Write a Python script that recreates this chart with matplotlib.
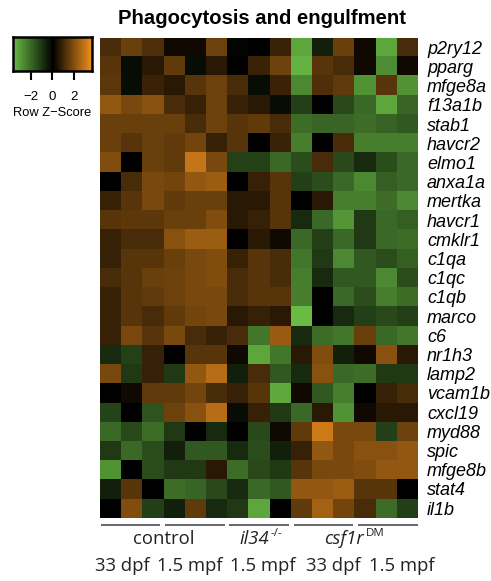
import numpy as np
import matplotlib
matplotlib.use("Agg")
import matplotlib.pyplot as plt
from matplotlib.colors import LinearSegmentedColormap
from matplotlib.transforms import blended_transform_factory

genes = ["p2ry12", "pparg", "mfge8a", "f13a1b", "stab1", "havcr2", "elmo1", "anxa1a",
         "mertka", "havcr1", "cmklr1", "c1qa", "c1qc", "c1qb", "marco", "c6", "nr1h3",
         "lamp2", "vcam1b", "cxcl19", "myd88", "spic", "mfge8b", "stat4", "il1b"]

genotypes = ["control", "il34", "csf1r"]
genotype_sup = ["", "-/-", "DM"]
stages = ["33 dpf", "1.5 mpf", "1.5 mpf", "33 dpf", "1.5 mpf"]

p2ry12 = [1.08, 1.55, 1.15, 0.25, 0.25, 1.6, -0.1, 0.0, 0.85, -3.2, -0.6, 1.55, 0.25, -3.2, 1.08]
pparg  = [1.3, -0.25, 0.6, 1.45, -0.25, 0.6, 0.05, 0.85, 1.6, -3.45, 1.3, 1.08, 0.25, -2.7, 0.25]
mfge8a = [1.35, -0.25, 0.85, 0.6, 1.3, 1.6, 1.08, -0.25, 0.85, -2.6, 1.15, 1.45, -2.8, 1.3, -2.8]
f13a1b = [2.15, 1.78, 2.0, 1.08, 0.8, 1.6, 0.8, 0.6, -0.25, -1.2, 0.0, -1.4, -2.0, -3.2, -1.95]
stab1  = [1.55, 1.55, 1.55, 1.55, 1.08, 1.6, 1.3, 1.45, 1.08, -2.1, -1.95, -1.95, -2.1, -1.9, -1.7]
havcr2 = [1.55, 1.3, 1.55, 1.45, 1.7, 0.8, 1.3, 0.0, 0.85, -2.45, 0.0, 1.08, -2.45, -2.45, -2.45]
elmo1  = [1.9, 0.0, 1.55, 1.45, 2.9, 1.78, -1.25, -1.25, -2.0, -1.5, 1.08, -1.4, -0.8, -1.5, -2.0]
anxa1a = [0.0, 1.08, 1.78, 1.7, 2.15, 2.3, 0.0, 0.8, 1.3, -1.2, -1.5, -2.0, -2.6, -1.85, -2.0]
mertka = [0.8, 1.3, 1.78, 1.45, 1.55, 1.55, 0.6, 0.6, 1.3, 0.0, 0.6, -2.45, -2.45, -2.1, -2.6]
havcr1 = [1.3, 1.35, 1.35, 1.55, 1.55, 1.9, 0.6, 0.8, 1.3, -0.8, -2.0, -2.9, -1.1, -2.0, -1.85]
cmklr1 = [0.8, 1.08, 1.08, 2.0, 2.3, 2.3, 0.0, 0.6, 0.25, -2.0, -1.2, -2.0, -1.1, -2.0, -2.1]
c1qa   = [0.8, 1.3, 1.3, 1.55, 1.78, 1.9, 0.8, 1.3, 1.08, -2.3, -1.1, -2.6, -1.7, -1.5, -1.85]
c1qc   = [1.08, 1.3, 1.55, 1.6, 1.78, 1.9, 1.08, 1.3, 1.08, -2.45, -0.8, -1.7, -1.7, -2.65, -1.5]
c1qb   = [0.8, 1.3, 1.45, 1.6, 1.78, 1.78, 1.08, 1.3, 1.3, -2.45, 0.0, -2.0, -1.5, -2.45, -2.1]
marco  = [0.8, 1.3, 1.08, 1.45, 1.7, 1.78, 0.6, 0.8, 0.6, -3.6, 0.0, -0.8, -1.2, -1.4, -1.2]
c6     = [0.8, 1.78, 1.3, 1.78, 1.08, 0.8, 1.08, -2.3, 2.25, -0.8, -2.1, -2.3, 1.55, -2.0, -2.3]
nr1h3  = [-0.8, -1.25, 0.8, 0.0, 1.3, 1.3, 0.25, -3.2, -2.3, 0.6, 1.9, -0.6, 0.25, 2.0, 0.6]
lamp2  = [1.78, -1.1, 0.8, -1.1, 2.15, 2.7, -0.6, 1.08, -1.7, -0.8, 2.0, -2.0, -2.1, -1.1, -1.1]
vcam1b = [0.0, 0.25, 1.45, 1.45, 1.7, 1.08, 0.8, 1.3, -3.25, 0.25, -1.7, -2.45, 0.0, 0.8, 1.08]
cxcl19 = [-1.3, 0.0, -1.6, 1.6, 2.0, 2.7, -0.25, 0.8, -1.1, -2.0, 0.6, -2.8, 0.25, 0.6, 0.6]
myd88  = [-2.0, -1.4, -2.1, -1.1, 0.0, -0.8, 0.0, -1.4, 0.25, 1.45, 3.0, 1.78, 1.78, -1.2, 1.6]
spic   = [-1.1, -2.0, -1.5, -0.6, -1.7, -1.7, -0.8, -1.5, -0.6, 0.8, 2.15, 1.78, 2.0, 2.0, 2.15]
mfge8b = [-2.8, 0.0, -1.5, -1.1, -1.1, 0.6, -2.1, -1.4, -1.1, 1.3, 1.78, 1.78, 1.9, 2.15, 2.15]
stat4  = [-0.6, 1.3, 0.0, -2.1, -1.95, -1.4, -0.8, -2.0, -1.7, 2.15, 2.15, 2.3, 1.3, 1.3, 0.0]
il1b   = [0.0, 1.9, -1.2, -0.6, 1.45, -0.8, -1.1, -3.2, 0.0, 1.45, 2.4, 1.7, 1.08, -2.1, -1.2]

rows = [p2ry12, pparg, mfge8a, f13a1b, stab1, havcr2, elmo1, anxa1a, mertka, havcr1,
        cmklr1, c1qa, c1qc, c1qb, marco, c6, nr1h3, lamp2, vcam1b, cxcl19, myd88, spic,
        mfge8b, stat4, il1b]
Z = np.array(rows)
nrow, ncol = Z.shape

W, H = 491, 581
fig = plt.figure(figsize=(W / 100, H / 100), dpi=100)

def fx(x):
    return x / W

def fy(y):
    return 1 - y / H

cmap = LinearSegmentedColormap.from_list("gbo", ["#6ABD45", "#000000", "#F7941D"])
vlim = 3.65

# heatmap
ax = fig.add_axes([fx(100), fy(517.7), fx(418) - fx(100), fy(37.7) - fy(517.7)])
ax.imshow(Z, cmap=cmap, vmin=-vlim, vmax=vlim, aspect="auto", interpolation="nearest",
          extent=(0, ncol, nrow, 0))
ax.set_xlim(0, ncol)
ax.set_ylim(nrow, 0)
for s in ax.spines.values():
    s.set_visible(False)
ax.set_xticks([])
ax.yaxis.tick_right()
ax.set_yticks(np.arange(nrow) + 0.5)
ax.set_yticklabels(genes, fontfamily="Liberation Sans", fontstyle="italic", fontsize=13)
ax.tick_params(axis="y", length=0, pad=6.5)

# group underlines
tr = blended_transform_factory(ax.transData, fig.transFigure)
for g in range(5):
    x0 = 3.035 * g + 0.03
    ax.plot([x0, x0 + 2.82], [fy(525), fy(525)], color="#5a5a5a", lw=1.3,
            transform=tr, clip_on=False, solid_capstyle="butt")

gcol = "#222222"
gsize = 13.3
fig.canvas.draw()
renderer = fig.canvas.get_renderer()
for xc, name, sup in zip([163.5, 261, 354], genotypes, genotype_sup):
    if not sup:
        fig.text(fx(xc), fy(539), name, fontfamily="Open Sans", fontsize=gsize,
                 color=gcol, ha="center", va="center")
        continue
    t1 = fig.text(0, 0, name, fontfamily="Open Sans", fontstyle="italic", fontsize=gsize,
                  color=gcol, ha="left", va="center")
    t2 = fig.text(0, 0, sup, fontfamily="Open Sans", fontsize=gsize * 0.62,
                  color=gcol, ha="left", va="center")
    w1 = t1.get_window_extent(renderer).width
    w2 = t2.get_window_extent(renderer).width
    left = xc - (w1 + w2 + 2) / 2
    t1.set_position((fx(left), fy(539)))
    t2.set_position((fx(left + w1 + 2), fy(533)))

for xc, lab in zip([122.5, 190, 262.5, 333.5, 402], stages):
    fig.text(fx(xc), fy(566), lab, fontfamily="Open Sans", fontsize=gsize, color=gcol,
             ha="center", va="center")

# title
fig.text(fx(262.5), fy(18), "Phagocytosis and engulfment", fontfamily="Liberation Sans",
         fontweight="bold", fontsize=14.6, ha="center", va="center")

# color key
kax = fig.add_axes([fx(12.7), fy(71.3), fx(92.3) - fx(12.7), fy(37.3) - fy(71.3)])
grad = np.linspace(-vlim, vlim, 256).reshape(1, -1)
kax.imshow(grad, cmap=cmap, vmin=-vlim, vmax=vlim, aspect="auto",
           extent=(-vlim, vlim, 0, 1))
kax.set_xlim(-vlim, vlim)
kax.set_yticks([])
kax.set_xticks([-2, 0, 2])
kax.set_xticklabels(["\u22122", "0", "2"], fontfamily="Liberation Sans", fontsize=9.5)
kax.tick_params(axis="x", length=6.5, width=1.5, pad=8)
for s in kax.spines.values():
    s.set_linewidth(1.8)
fig.text(fx(52.5), fy(113.5), "Row Z\u2212Score", fontfamily="Liberation Sans", fontsize=9.3,
         ha="center", va="center")

fig.savefig("out.png", dpi=100)
